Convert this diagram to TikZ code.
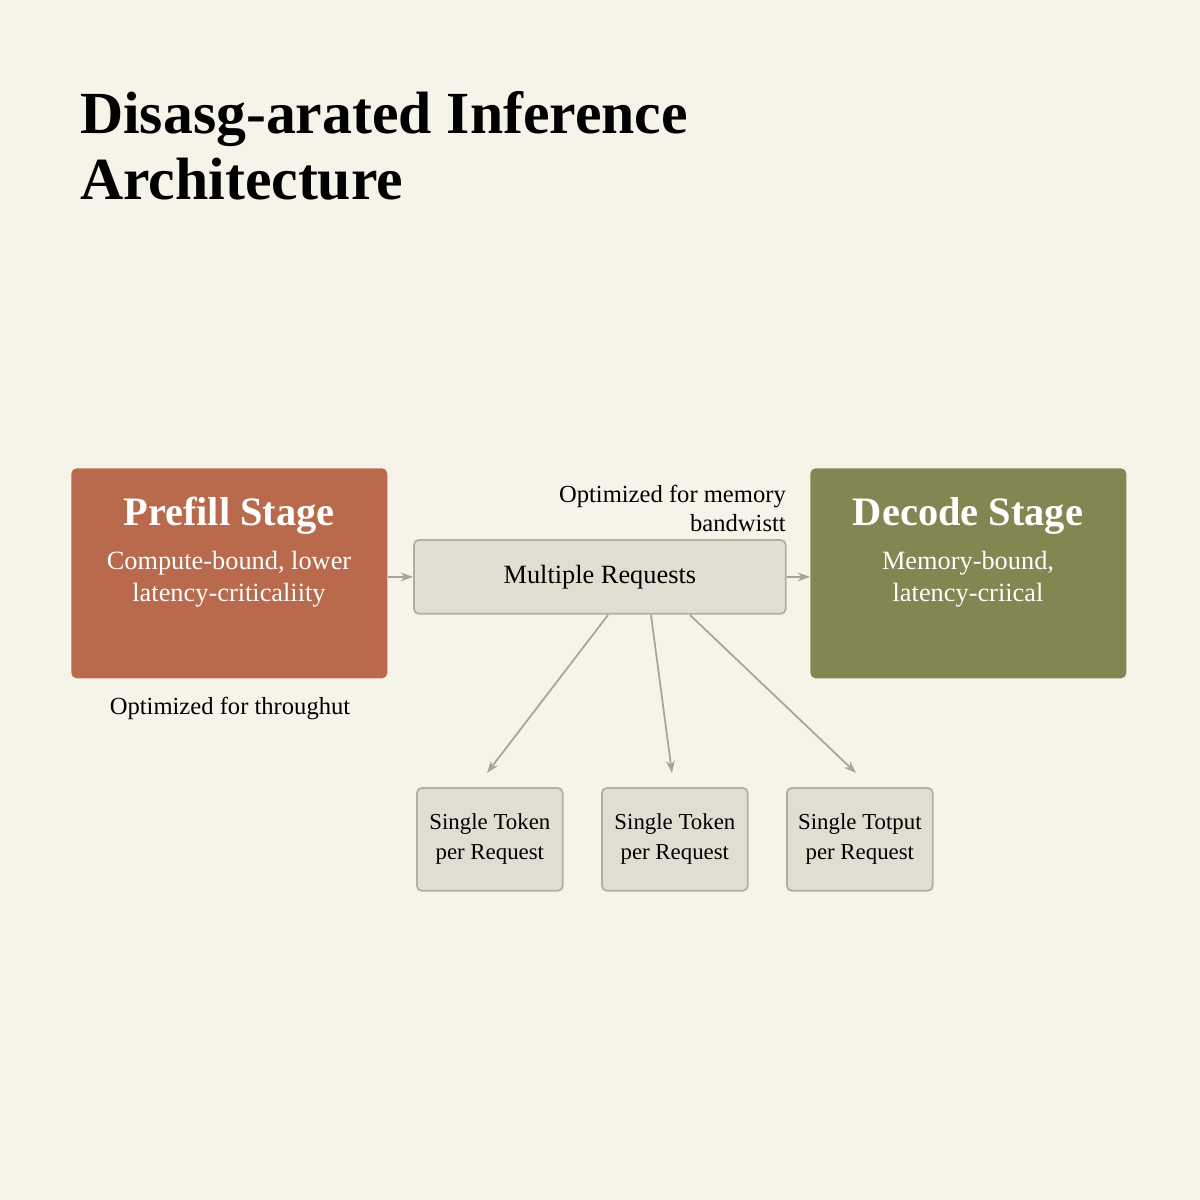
\documentclass[tikz,border=0pt]{standalone}
\usepackage{fontspec}
\setmainfont{Liberation Serif}
\usetikzlibrary{arrows.meta}
\definecolor{bg}{HTML}{F6F3E8}
\definecolor{pre}{HTML}{BA6A4C}
\definecolor{dec}{HTML}{838650}
\definecolor{boxf}{HTML}{E1DDD0}
\definecolor{boxd}{HTML}{B3AEA3}
\definecolor{arr}{HTML}{A8A49A}
\begin{document}
\begin{tikzpicture}[x=0.02cm,y=-0.02cm,
 stage/.style={draw=none,rounded corners=3pt,minimum width=6.32cm,minimum height=4.2cm,anchor=north west},
 gbox/.style={draw=boxd,fill=boxf,line width=1pt,rounded corners=3pt,anchor=north west},
 small/.style={gbox,minimum width=2.92cm,minimum height=2.06cm,align=center,font=\fontsize{13}{17}\selectfont},
 arrow/.style={draw=arr,line width=1pt,-{Stealth[length=7pt,width=5pt]}}]
\fill[bg] (0,0) rectangle (1200,1200);
\node[anchor=base west,align=left,font=\fontsize{34}{37}\selectfont\bfseries] (title) at (74,199) {Disasg-arated Inference\\Architecture};
\node[stage,fill=pre] (pre) at (71,468) {};
\node[font=\fontsize{23}{26}\selectfont\bfseries,text=white] (pret) at (229,516) {Prefill Stage};
\node[font=\fontsize{15}{18}\selectfont,text=white,align=center] (pres) at (229,579) {Compute-bound, lower\\latency-criticaliity};
\node[stage,fill=dec] (dec) at (810,468) {};
\node[font=\fontsize{23}{26}\selectfont\bfseries,text=white] (dect) at (968,516) {Decode Stage};
\node[font=\fontsize{15}{18}\selectfont,text=white,align=center] (decs) at (968,579) {Memory-bound,\\latency-criical};
\node[gbox,minimum width=7.44cm,minimum height=1.48cm,font=\fontsize{15}{18}\selectfont] (mr) at (413,539) {Multiple Requests};
\node[small] (s1) at (416,787) {Single Token\\per Request};
\node[small] (s2) at (601,787) {Single Token\\per Request};
\node[small] (s3) at (786,787) {Single Totput\\per Request};
\node[font=\fontsize{14}{17}\selectfont] (thr) at (230,708) {Optimized for throughut};
\node[font=\fontsize{14}{16.5}\selectfont,align=right,anchor=north east] (mem) at (792,479) {Optimized for memory\\bandwistt};
\draw[arrow] (pre.east |- mr.west) -- (mr.west);
\draw[arrow] (mr.east) -- (dec.west |- mr.east);
\coordinate (a1) at (608,615); \coordinate (a2) at (651,615); \coordinate (a3) at (690,615);
\coordinate (b1) at (487,773); \coordinate (b2) at (672,773); \coordinate (b3) at (856,773);
\draw[arrow] (a1) -- (b1);
\draw[arrow] (a2) -- (b2);
\draw[arrow] (a3) -- (b3);
\end{tikzpicture}
\end{document}
